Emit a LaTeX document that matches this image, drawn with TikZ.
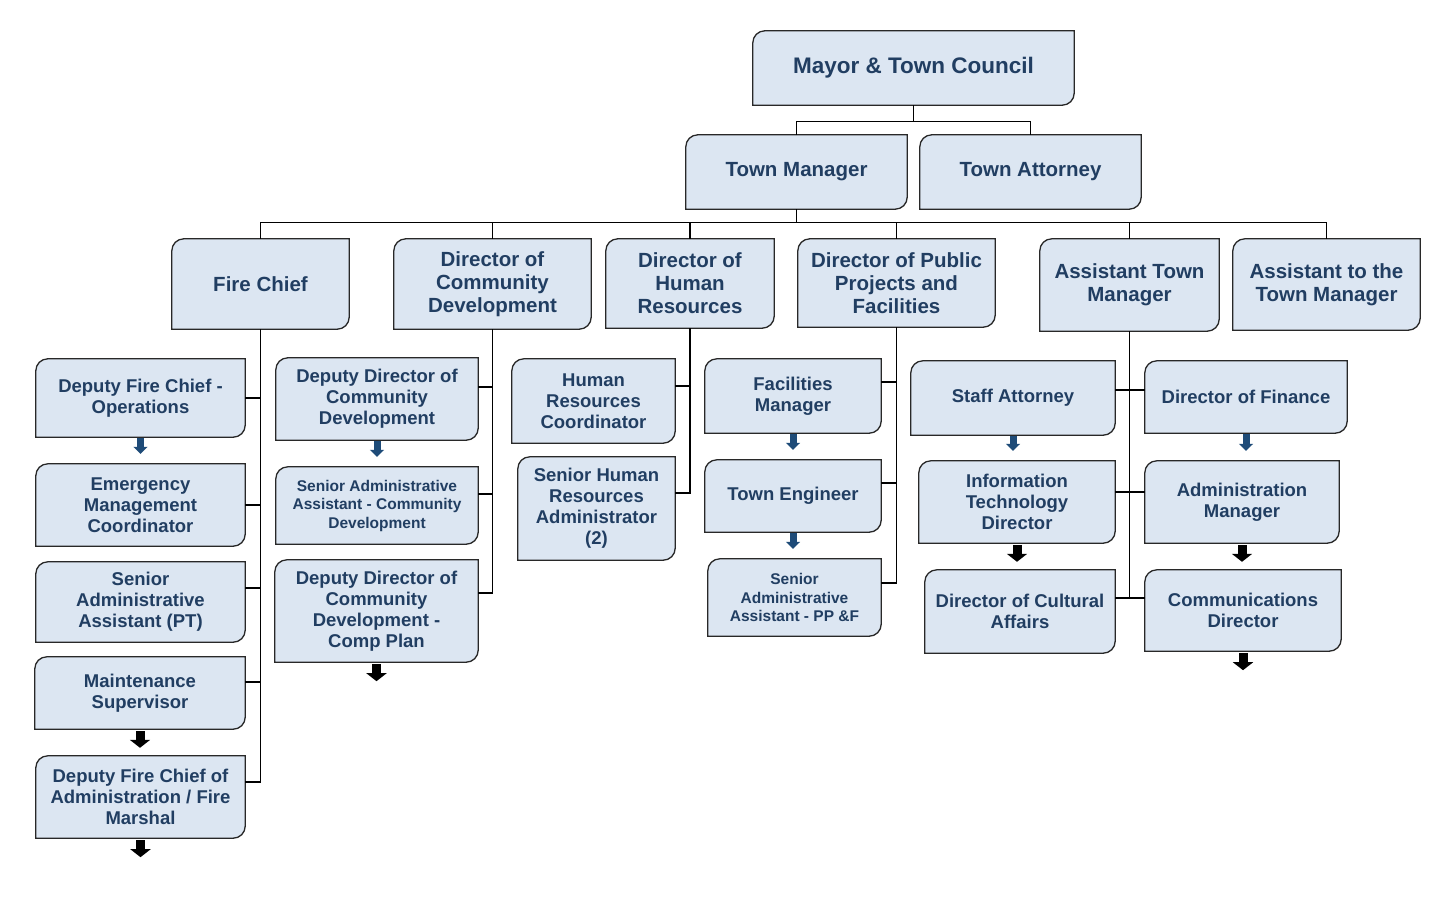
\documentclass[tikz,border=0pt]{standalone}
\usepackage{fontspec}
\setmainfont{Liberation Sans}
\usetikzlibrary{arrows.meta, backgrounds, calc}

\definecolor{boxfill}{RGB}{220,230,242}
\definecolor{boxtext}{RGB}{33,62,98}
\definecolor{arrowblue}{RGB}{30,75,120}

\begin{document}
\begin{tikzpicture}[x=1pt, y=1pt,
    orgbox/.style = {
        align=center,
        text=boxtext,
        inner sep=0pt,
        font=\bfseries\fontsize{18.5}{21}\selectfont
    },
    mayorfont/.style = {font=\bfseries\fontsize{22.5}{26}\selectfont},
    headfont/.style = {font=\bfseries\fontsize{20.5}{23}\selectfont},
    smallfont/.style = {font=\bfseries\fontsize{15.5}{18.5}\selectfont},
    boxsize/.style 2 args = {minimum width=#1pt, minimum height=#2pt},
    boxline/.style = {draw={rgb,255:red,40;green,40;blue,40}, line width=1.3pt, fill=boxfill},
    wire/.style = {draw=black, line width=1.1pt},
    bluearrow/.style = {draw=arrowblue, line width=7pt, -{Triangle[length=7pt, width=14pt]}, shorten <=1pt, shorten >=10pt},
    blackarrow/.style = {draw=black, line width=9pt, -{Triangle[length=8pt, width=20pt]}, shorten <=2pt, shorten >=8pt}
]
\useasboundingbox (0,0) rectangle (1453,-909);

% top levels
\node [orgbox, mayorfont, boxsize={321}{74}] (mayor) at (913.5,-68) {Mayor \& Town Council};
\node [orgbox, headfont, boxsize={221}{74}] (tmgr) at (796.5,-172) {Town Manager};
\node [orgbox, headfont, boxsize={221}{74}] (tatty) at (1030.5,-172) {Town Attorney};

\node [orgbox, headfont, boxsize={177}{90}] (fire) at (260.5,-284) {Fire Chief};
\node [orgbox, headfont, boxsize={197}{90}] (cdev) at (492.5,-284) {Director of\\Community\\Development};
\node [orgbox, headfont, boxsize={168}{89}] (hr) at (690,-283.5) {Director of\\Human\\Resources};
\node [orgbox, headfont, boxsize={197}{88}] (ppf) at (896.5,-283) {Director of Public\\Projects and\\Facilities};
\node [orgbox, headfont, boxsize={179}{92}] (atm) at (1129.5,-285) {Assistant Town\\Manager};
\node [orgbox, headfont, boxsize={187}{91}] (attm) at (1326.5,-284.5) {Assistant to the\\Town Manager};

% fire chief
\node [orgbox, boxsize={209}{78}] (dfco) at (140.5,-398) {Deputy Fire Chief -\\Operations};
\node [orgbox, boxsize={209}{82}] (emc) at (140.5,-505) {Emergency\\Management\\Coordinator};
\node [orgbox, boxsize={209}{80}] (saapt) at (140.5,-602) {Senior\\Administrative\\Assistant (PT)};
\node [orgbox, boxsize={210}{72}] (maint) at (140,-693) {Maintenance\\Supervisor};
\node [orgbox, boxsize={209}{82}] (dfca) at (140.5,-797) {Deputy Fire Chief of\\Administration / Fire\\Marshal};

% community development
\node [orgbox, boxsize={202}{82}] (ddcd) at (377,-399) {Deputy Director of\\Community\\Development};
\node [orgbox, smallfont, boxsize={202}{77}] (saacd) at (377,-505.5) {Senior Administrative\\Assistant - Community\\Development};
\node [orgbox, boxsize={203}{102}] (ddcp) at (376.5,-611) {Deputy Director of\\Community\\Development -\\Comp Plan};

% human resources
\node [orgbox, boxsize={163}{84}] (hrc) at (593.5,-401) {Human\\Resources\\Coordinator};
\node [orgbox, boxsize={157}{103}] (shra) at (596.5,-508.5) {Senior Human\\Resources\\Administrator\\(2)};

% public projects
\node [orgbox, boxsize={176}{74}] (fac) at (793,-396) {Facilities\\Manager};
\node [orgbox, boxsize={176}{72}] (eng) at (793,-496) {Town Engineer};
\node [orgbox, smallfont, boxsize={173}{77}] (saapp) at (794.5,-597.5) {Senior\\Administrative\\Assistant - PP \&F};

% assistant town manager
\node [orgbox, boxsize={204}{74}] (satty) at (1013,-398) {Staff Attorney};
\node [orgbox, boxsize={202}{72}] (fin) at (1246,-397) {Director of Finance};
\node [orgbox, boxsize={196}{82}] (itd) at (1017,-502) {Information\\Technology\\Director};
\node [orgbox, boxsize={194}{82}] (adm) at (1242,-502) {Administration\\Manager};
\node [orgbox, boxsize={190}{83}] (dca) at (1020,-611.5) {Director of Cultural\\Affairs};
\node [orgbox, boxsize={196}{81}] (comm) at (1243,-610.5) {Communications\\Director};

% buses
\draw[wire] (mayor.south) -- ([yshift=-16pt]mayor.south) coordinate (bus1);
\draw[wire] (tmgr.north) |- (bus1) -| (tatty.north);
\draw[wire] (tmgr.south) -- ([yshift=-13pt]tmgr.south) coordinate (bus2);
\draw[wire] (fire.north) |- (bus2) -| (attm.north);
\foreach \n in {cdev,hr,ppf,atm}
    \draw[wire] (\n.north) -- (\n.north |- bus2);

% spines and branches
\draw[wire] (fire.south) |- ([yshift=15pt]dfca.east);
\foreach \n/\s in {dfco/0pt, emc/0pt, saapt/14pt, maint/11pt}
    \draw[wire] ([yshift=\s]\n.east) -- ([yshift=\s]\n.east -| fire.south);

\draw[wire] (cdev.south) |- ([yshift=18pt]ddcp.east);
\foreach \n/\s in {ddcd/12pt, saacd/11.5pt}
    \draw[wire] ([yshift=\s]\n.east) -- ([yshift=\s]\n.east -| cdev.south);

\draw[wire] (hr.south) |- ([yshift=15.5pt]shra.east);
\draw[wire] ([yshift=15pt]hrc.east) -- ([yshift=15pt]hrc.east -| hr.south);

\draw[wire] (ppf.south) |- ([yshift=14.5pt]saapp.east);
\foreach \n/\s in {fac/14pt, eng/13pt}
    \draw[wire] ([yshift=\s]\n.east) -- ([yshift=\s]\n.east -| ppf.south);

\draw[wire] (atm.south) -- ([yshift=13.5pt]dca.east -| atm.south);
\foreach \a/\b/\s in {satty/fin/8pt, itd/adm/10pt, dca/comm/13.5pt}
    \draw[wire] ([yshift=\s]\a.east) -- ([yshift=\s]\a.east -| \b.west);

% block arrows
\draw[bluearrow] (dfco.south) -- (dfco.south |- emc.north);
\draw[blackarrow] (maint.south) -- (maint.south |- dfca.north);
\draw[blackarrow] (dfca.south) -- ([yshift=-27pt]dfca.south);
\draw[bluearrow] (ddcd.south) -- (ddcd.south |- saacd.north);
\draw[blackarrow] (ddcp.south) -- ([yshift=-27pt]ddcp.south);
\draw[bluearrow] (fac.south) -- (fac.south |- eng.north);
\draw[bluearrow] (eng.south) -- (eng.south |- saapp.north);
\draw[bluearrow] (satty.south) -- (satty.south |- itd.north);
\draw[bluearrow] (fin.south) -- (fin.south |- adm.north);
\draw[blackarrow] (itd.south) -- (itd.south |- dca.north);
\draw[blackarrow] (adm.south) -- (adm.south |- comm.north);
\draw[blackarrow] (comm.south) -- ([yshift=-27pt]comm.south);

% box outlines, rounded top left and bottom right
\begin{scope}[on background layer]
\fill[white] (0,0) rectangle (1453,-909);
\foreach \n in {mayor,tmgr,tatty,fire,cdev,hr,ppf,atm,attm,
                dfco,emc,saapt,maint,dfca,ddcd,saacd,ddcp,hrc,shra,
                fac,eng,saapp,satty,fin,itd,adm,dca,comm}
    \path[boxline] (\n.south west) -- ([yshift=-12pt]\n.north west)
        arc[start angle=180, end angle=90, radius=12pt] -- (\n.north east)
        -- ([yshift=12pt]\n.south east)
        arc[start angle=0, end angle=-90, radius=12pt] -- cycle;
\end{scope}
\end{tikzpicture}
\end{document}
